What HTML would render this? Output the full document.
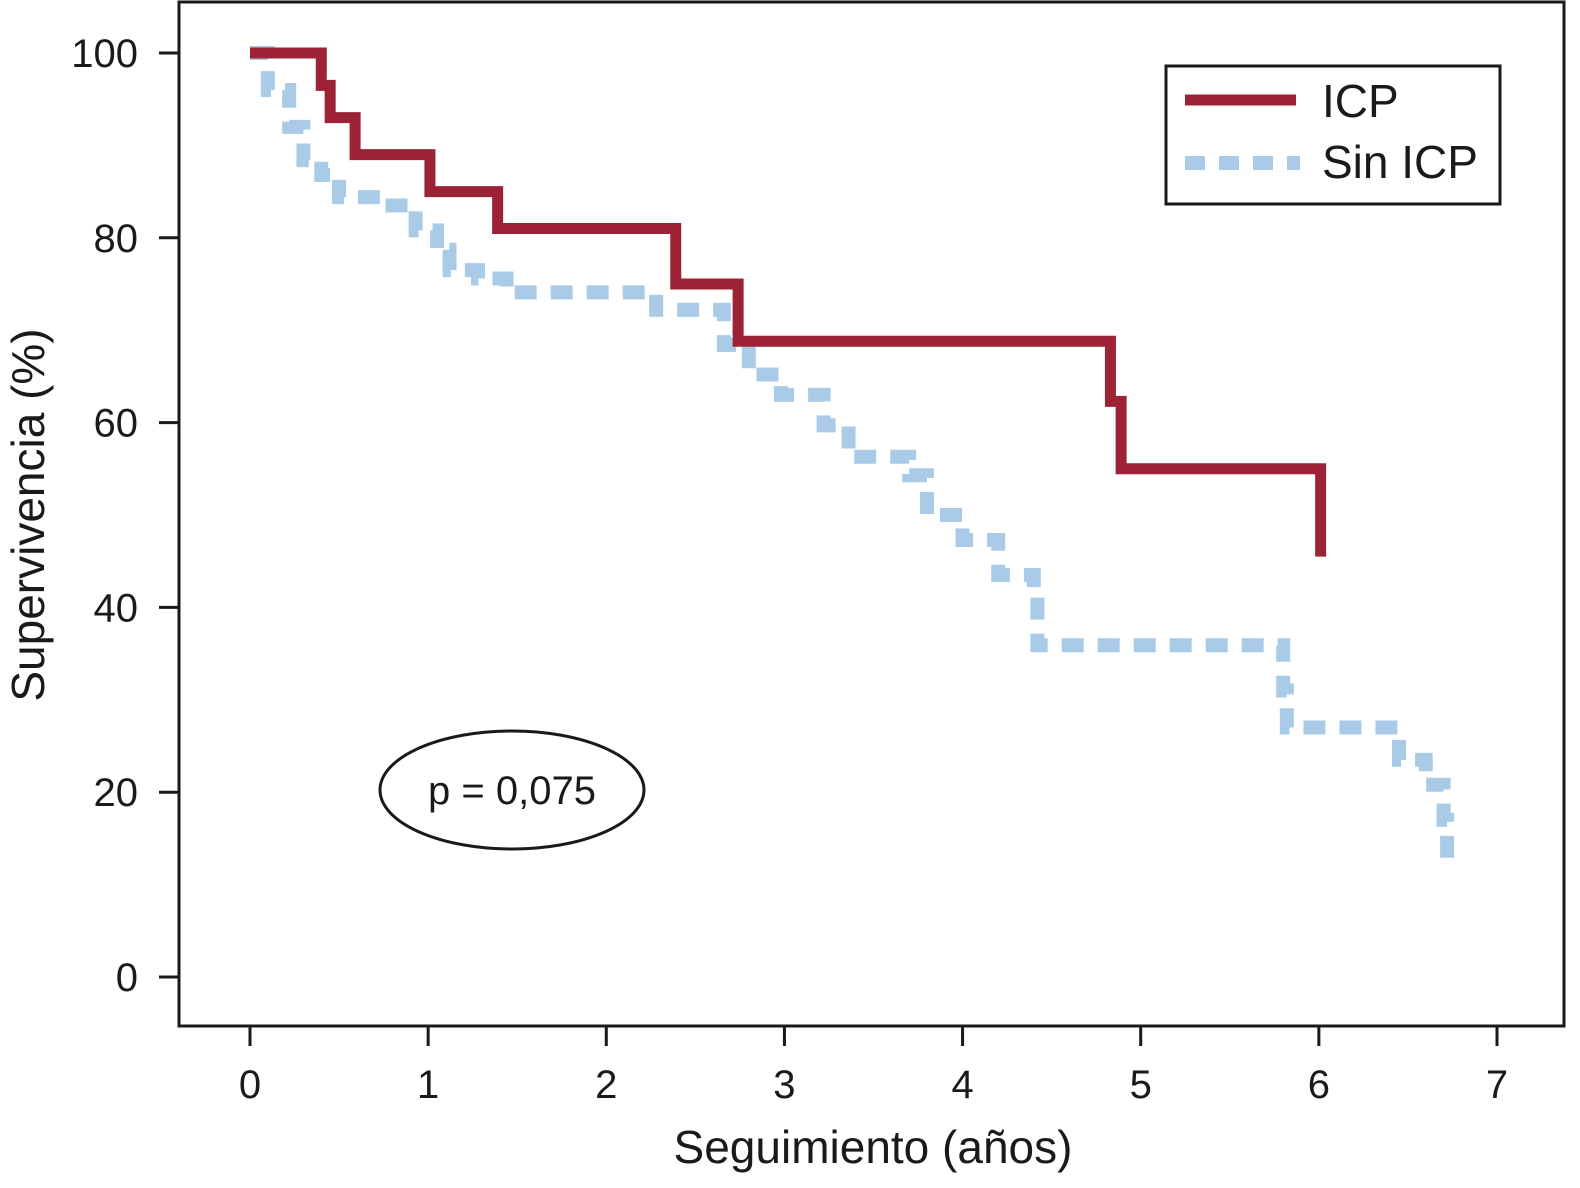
<!DOCTYPE html>
<html><head><meta charset="utf-8"><style>
html,body{margin:0;padding:0;background:#fff;}
svg{display:block;font-family:"Liberation Sans",Arial,sans-serif;}
</style></head><body>
<svg id="chart" width="1580" height="1188" viewBox="0 0 1580 1188">
<rect x="179" y="2" width="1385" height="1024" fill="none" stroke="#1a1a1a" stroke-width="3"/>
<g id="axes"></g>
<g id="series"></g>
<g>
<rect x="1166" y="66" width="334" height="138" fill="#fff" stroke="#1a1a1a" stroke-width="3"/>
<line x1="1185" y1="100" x2="1296" y2="100" stroke="#9b2335" stroke-width="11"/>
<text x="1322" y="117" font-size="46" fill="#1a1a1a">ICP</text>
<line x1="1185" y1="163" x2="1300" y2="163" stroke="#a9cbe8" stroke-width="14" stroke-dasharray="20 14"/>
<text x="1322" y="178" font-size="46" fill="#1a1a1a">Sin ICP</text>
</g>
<ellipse cx="512" cy="790" rx="132" ry="59" fill="none" stroke="#1a1a1a" stroke-width="3"/>
<text x="512" y="804" font-size="40" text-anchor="middle" fill="#1a1a1a">p = 0,075</text>
<text x="873" y="1163" font-size="46" text-anchor="middle" fill="#1a1a1a">Seguimiento (años)</text>
<text transform="translate(44,515) rotate(-90)" font-size="46" text-anchor="middle" fill="#1a1a1a">Supervivencia (%)</text>
</svg>
<script>
const xTicks = [0,1,2,3,4,5,6,7];
const yTicks = [0,20,40,60,80,100];
const icpTimes = [0,0.40,0.45,0.59,1.01,1.39,2.39,2.74,4.83,4.89,6.01];
const icpSurv  = [100,96.5,93,89,85,81,75,68.8,62.3,55,45.5];
const icpEnd = 6.01;
const sinTimes = [0,0.10,0.22,0.30,0.40,0.50,0.80,0.93,1.05,1.12,1.28,1.44,2.28,2.66,2.80,2.98,3.22,3.36,3.70,3.80,4.00,4.20,4.40,4.42,5.80,5.82,6.45,6.60,6.70,6.72];
const sinSurv  = [100,96,92,88.4,86.8,84.4,83.5,80.8,78.7,76.5,75.6,74.1,72.2,68.4,65.2,63,59.7,56.3,54.3,50,47.3,43.5,41.1,35.9,31,27,23.5,20.8,17,12.9];
const sinEnd = 6.72;

const NS='http://www.w3.org/2000/svg';
const xs = v => 250 + v*(1497-250)/7;
const ys = v => 977 - v*(977-53)/100;
const axes=document.getElementById('axes');
const series=document.getElementById('series');
function mk(tag,attrs,parent){const e=document.createElementNS(NS,tag);for(const k in attrs)e.setAttribute(k,attrs[k]);parent.appendChild(e);return e;}

xTicks.forEach(t=>{
  const l=mk('line',{x1:xs(t),x2:xs(t),y1:1026,y2:1046,stroke:'#1a1a1a','stroke-width':3},axes);
  
  
  const tx=mk('text',{x:xs(t),y:1098,'font-size':40,'text-anchor':'middle',fill:'#1a1a1a'},axes);
  tx.textContent=t;
  
  
});
yTicks.forEach(t=>{
  const l=mk('line',{x1:159,x2:179,y1:ys(t),y2:ys(t),stroke:'#1a1a1a','stroke-width':3},axes);
  
  
  const tx=mk('text',{x:138,y:ys(t)+14,'font-size':40,'text-anchor':'end',fill:'#1a1a1a'},axes);
  tx.textContent=t;
  
  
});
function stepPath(times,surv,end){
  let d='M'+xs(times[0])+','+ys(surv[0]);
  for(let i=1;i<times.length;i++){d+=' H'+xs(times[i])+' V'+ys(surv[i]);}
  d+=' H'+xs(end);
  return d;
}
const sp=mk('path',{d:stepPath(sinTimes,sinSurv,sinEnd),fill:'none',stroke:'#a9cbe8','stroke-width':14,'stroke-dasharray':'22 14'},series);


const ip=mk('path',{d:stepPath(icpTimes,icpSurv,icpEnd),fill:'none',stroke:'#9b2335','stroke-width':11},series);


</script>
</body></html>
